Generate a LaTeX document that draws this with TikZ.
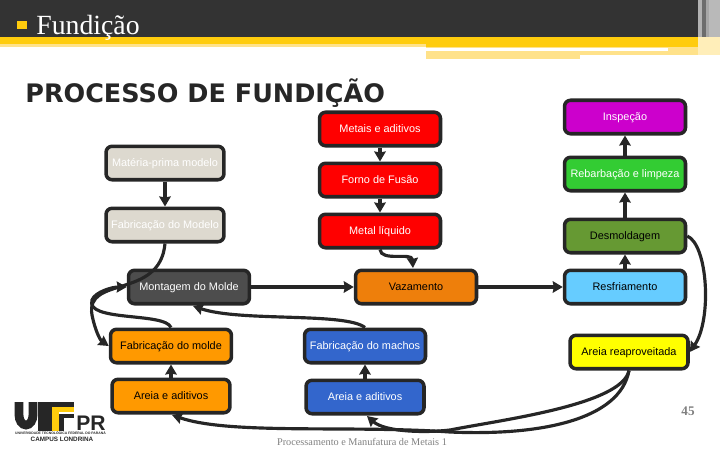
\documentclass[tikz,border=0pt]{standalone}
\usepackage{fontspec}
\setmainfont{Liberation Serif}
\setsansfont{Liberation Sans}
\newfontfamily\titlefont{DejaVu Sans}
\usetikzlibrary{arrows.meta}
\definecolor{edgedark}{HTML}{262626}
\definecolor{headerdark}{HTML}{333333}
\definecolor{bandyellow}{HTML}{FFCC0D}
\definecolor{paleyellow}{HTML}{FFE28A}
\definecolor{beigebox}{HTML}{DDD9CF}
\definecolor{slatebox}{HTML}{4D4D4D}
\definecolor{redbox}{HTML}{FF0000}
\definecolor{orangebox}{HTML}{EE7F0B}
\definecolor{amberbox}{HTML}{FF9900}
\definecolor{bluebox}{HTML}{3366CC}
\definecolor{skybox}{HTML}{66CCFF}
\definecolor{yellowbox}{HTML}{FFFF00}
\definecolor{olivebox}{HTML}{669933}
\definecolor{greenbox}{HTML}{33CC33}
\definecolor{purplebox}{HTML}{CC00CC}

\begin{document}
\begin{tikzpicture}[
    x=0.02cm, y=-0.02cm,
    stagebox/.style={draw=edgedark, rounded corners=3.5pt, line width=2pt, minimum width=2.42cm, minimum height=0.67cm, inner sep=0pt, align=center, text height=4.6pt, text depth=0.2pt, font=\sffamily\fontsize{6.2}{7.5}\selectfont},
    narrowbox/.style={stagebox, minimum width=2.36cm},
    arrow/.style={-{Stealth[length=2mm, width=2.3mm, inset=0.2mm]}, line width=1.8pt, draw=edgedark},
    curve/.style={-{Stealth[length=2mm, width=2.2mm, inset=0.2mm]}, line width=1.8pt, draw=edgedark},
    footer/.style={font=\fontsize{5.85}{7}\selectfont, text=gray}
]
\useasboundingbox (0,0) rectangle (720,450);

% header
\fill[headerdark] (0,0) rectangle (720,37);
\fill[gray!60] (698,0) rectangle (702,37);
\fill[gray!85!black] (702,0) rectangle (706,37);
\fill[gray!70] (706,0) rectangle (709,37);
\fill[gray!55] (709,0) rectangle (720,37);
\fill[bandyellow] (0,37) rectangle (720,44);
\fill[paleyellow] (0,44) rectangle (426,47);
\fill[bandyellow] (426,44) rectangle (698,47);
\fill[paleyellow] (426,47) rectangle (698,55);
\fill[paleyellow!60] (698,37) rectangle (720,55);
\fill[paleyellow] (426,55) rectangle (580,59);
\fill[white] (426,48) rectangle (668,51);
\fill[bandyellow] (17,21) rectangle (27,29);
\node[text=white, anchor=base west, inner sep=0pt, font=\fontsize{15.8}{17}\selectfont] (topic) at (36,34) {Fundição};
\node[text=edgedark, anchor=base west, font=\titlefont\bfseries\fontsize{14.5}{16}\selectfont, inner sep=0pt] (title) at (25,102) {PROCESSO DE FUNDIÇÃO};

% boxes
\node[stagebox, fill=redbox, text=white] (metais) at (380,129) {Metais e aditivos};
\node[stagebox, fill=redbox, text=white] (forno) at (380,180) {Forno de Fusão};
\node[stagebox, fill=redbox, text=white] (liquido) at (380,231) {Metal líquido};
\node[narrowbox, fill=beigebox, text=white] (materia) at (165,163) {Matéria-prima modelo};
\node[narrowbox, fill=beigebox, text=white] (modelo) at (165,225) {Fabricação do Modelo};
\node[stagebox, fill=slatebox, text=white] (montagem) at (189,287) {Montagem do Molde};
\node[stagebox, fill=orangebox, text=black] (vazamento) at (416,287) {Vazamento};
\node[stagebox, fill=skybox, text=black] (resfria) at (625,287) {Resfriamento};
\node[stagebox, fill=olivebox, text=black] (desmolde) at (625,236) {Desmoldagem};
\node[stagebox, fill=greenbox, text=white] (rebarba) at (625,174) {Rebarbação e limpeza};
\node[stagebox, fill=purplebox, text=white] (inspecao) at (625,117) {Inspeção};
\node[narrowbox, fill=yellowbox, text=black] (reuso) at (629,352) {Areia reaproveitada};
\node[stagebox, fill=amberbox, text=black] (molde) at (171,346) {Fabricação do molde};
\node[narrowbox, fill=amberbox, text=black] (areiamolde) at (171,396) {Areia e aditivos};
\node[stagebox, fill=bluebox, text=white] (machos) at (365,346) {Fabricação do machos};
\node[narrowbox, fill=bluebox, text=white] (areiamachos) at (365,397) {Areia e aditivos};

% straight arrows
\draw[arrow] (metais) -- (forno);
\draw[arrow] (forno) -- (liquido);
\draw[arrow] (materia) -- (modelo);
\draw[arrow] (montagem) -- (vazamento);
\draw[arrow] (vazamento) -- (resfria);
\draw[arrow] (resfria) -- (desmolde);
\draw[arrow] (desmolde) -- (rebarba);
\draw[arrow] (rebarba) -- (inspecao);
\draw[arrow] (areiamolde) -- (molde);
\draw[arrow] (areiamachos) -- (machos);

% curved arrows
\draw[curve] (liquido.south) .. controls (381,262) and (412,252) .. (413,268);
\draw[curve] (modelo.south) .. controls (160,300) and (85,275) .. (92,315) .. controls (95,330) and (100,340) .. (molde.west);
\draw[curve] (molde.north) .. controls (165,312) and (85,322) .. (92,300) .. controls (95,292) and (112,287) .. (montagem.west);
\draw[curve] (machos.north) .. controls (345,312) and (240,322) .. (193,306);
\draw[curve] (desmolde.east) .. controls (708,245) and (712,320) .. (reuso.east);
\draw[curve] (reuso.south) .. controls (622,405) and (500,420) .. (450,430) .. controls (425,433) and (385,432) .. (367,416);
\draw[curve] (reuso.south) .. controls (620,420) and (540,436) .. (450,432) .. controls (350,425) and (230,435) .. (172,415);

% footer
\node[footer, anchor=base] (rodape) at (362,445) {Processamento e Manufatura de Metais 1};
\node[font=\bfseries\fontsize{7.5}{9}\selectfont, text=gray] (pagina) at (688,411) {45};

% logo
\draw[edgedark, line width=5pt] (19,402) -- (19,415) arc[start angle=180, end angle=360, x radius=7, y radius=-10] -- (33,402);
\fill[edgedark] (38,402) rectangle (74,407);
\fill[edgedark] (38,407) rectangle (52,431);
\fill[bandyellow] (52,407) rectangle (74,412);
\fill[bandyellow] (52,412) rectangle (59,431);
\fill[edgedark] (59,414) rectangle (74,418);
\fill[edgedark] (59,418) rectangle (64,431);
\node[font=\sffamily\bfseries\fontsize{12}{12}\selectfont, text=edgedark, inner sep=0pt, anchor=base west] (logopr) at (76,430) {PR};
\node[font=\sffamily\bfseries\fontsize{1.95}{2.2}\selectfont, text=edgedark, inner sep=0pt] (logouni) at (60.5,433) {UNIVERSIDADE TECNOLÓGICA FEDERAL DO PARANÁ};
\node[font=\sffamily\bfseries\fontsize{3.6}{4}\selectfont, text=edgedark, inner sep=0pt] (logocampus) at (62,439.5) {CAMPUS LONDRINA};
\end{tikzpicture}
\end{document}
